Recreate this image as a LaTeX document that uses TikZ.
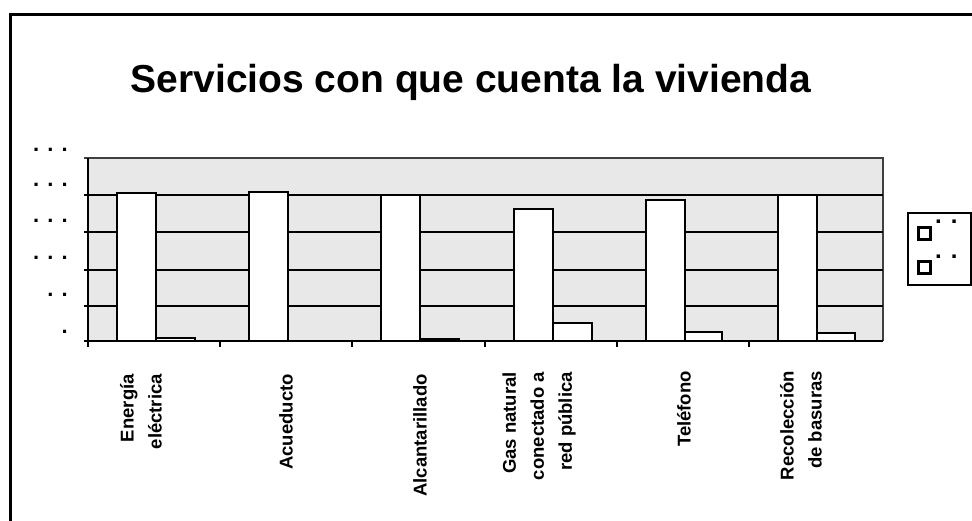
\documentclass[tikz,border=0pt]{standalone}
\usepackage{fontspec}
\setmainfont{Liberation Sans}
\usetikzlibrary{positioning}

\begin{document}
\begin{tikzpicture}
	[
	  x=1pt, y=-1pt,
	  bar/.style={draw, fill=white, line width=2.6pt},
	  gridline/.style={line width=1.4pt},
	  dots/.style={anchor=east, inner sep=0pt, font=\fontsize{22}{22}\bfseries\selectfont},
	  keydots/.style={anchor=west, inner sep=0pt, font=\fontsize{24}{24}\bfseries\selectfont},
	  key/.style={draw, fill=white, line width=3pt, minimum size=12pt, inner sep=0pt},
	  category/.style={rotate=90, anchor=east, align=right, inner sep=0pt,
	    font=\fontsize{18.5}{28}\bfseries\selectfont},
	]
	\useasboundingbox (0,0) rectangle (972,521);
	% page frame
	\draw [line width=3pt] (972,15) -- (10,15) -- (10,521);
	\node (title) [anchor=base, font=\fontsize{39}{39}\bfseries\selectfont] at (471,93)
	  {Servicios con que cuenta la vivienda};
	% plot area
	\fill [black!9] (88,158) rectangle (883,341);
	\draw [black!75, line width=1.4pt] (84,158) -- (883,158) -- (883,341);
	\foreach \y in {195,232,270,306}
	  \draw [gridline] (84,\y) -- (883,\y);
	\draw [line width=2.6pt] (88,158) -- (88,347);
	\draw [line width=2.6pt] (84,341) -- (883,341);
	\foreach \x in {220,352,485,617,749}
	  \draw [line width=1.4pt] (\x,341) -- (\x,347);
	% value axis (unreadable)
	\node (v100) [dots] at (68,150) {. . .};
	\node (v80) [dots] at (68,185) {. . .};
	\node (v60) [dots] at (68,221) {. . .};
	\node (v40) [dots] at (68,258) {. . .};
	\node (v20) [dots] at (68,295) {. .};
	\node (v0) [dots] at (68,332) {.};
	% bars
	\draw [bar] (117,341) rectangle (156,193);
	\draw [bar] (156,341) rectangle (195,338);
	\draw [bar] (249,341) rectangle (288,192);
	\draw [bar] (381,341) rectangle (420,195);
	\draw [bar] (420,341) rectangle (459,339);
	\draw [bar] (514,341) rectangle (553,209);
	\draw [bar] (553,341) rectangle (592,323);
	\draw [bar] (646,341) rectangle (685,200);
	\draw [bar] (685,341) rectangle (722,332);
	\draw [bar] (778,341) rectangle (817,195);
	\draw [bar] (817,341) rectangle (855,333);
	% categories
	\node (energia) [category] at (141,374) {Energía\\eléctrica};
	\node (acueducto) [category] at (286,374) {Acueducto};
	\node (alcantarillado) [category] at (420,374) {Alcantarillado};
	\node (gas) [category] at (539,372) {Gas natural\\conectado a\\red pública};
	\node (telefono) [category] at (684,371) {Teléfono};
	\node (basuras) [category] at (801,371) {Recolección\\de basuras};
	% legend
	\draw [line width=1.5pt] (908,213) rectangle (971,285);
	\node (key1) [key] at (924.5,233.5) {};
	\node (key2) [key] at (924.5,267.5) {};
	\node (lab1) [keydots] at (935,222) {. .};
	\node (lab2) [keydots] at (935,257) {. .};
\end{tikzpicture}
\end{document}
